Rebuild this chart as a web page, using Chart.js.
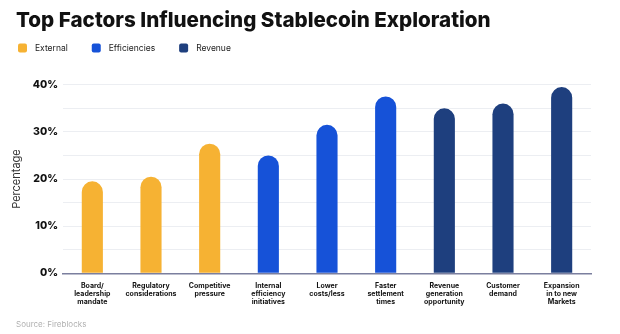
<!DOCTYPE html>
<html><head><meta charset="utf-8">
<script src="https://cdn.jsdelivr.net/npm/chart.js@4/dist/chart.umd.min.js"></script>
<style>html,body{margin:0;padding:0;background:#fff}#wrap{width:620px;height:334px}</style>
</head><body><div id="wrap"><canvas id="c" width="620" height="334"></canvas></div>
<script>
const categories = [["Board/","leadership","mandate"],["Regulatory","considerations"],["Competitive","pressure"],["Internal","efficiency","initiatives"],["Lower","costs/less"],["Faster","settlement","times"],["Revenue","generation","opportunity"],["Customer","demand"],["Expansion","in to new","Markets"]];
const external = [19.5, 20.5, 27.5, null, null, null, null, null, null];
const efficiencies = [null, null, null, 25, 31.5, 37.5, null, null, null];
const revenue = [null, null, null, null, null, null, 35, 36, 39.5];
const yTicks = [0, 10, 20, 30, 40];

const FONT = "Inter, 'Open Sans', sans-serif";
const common = {grouped:false, borderSkipped:'start', borderRadius:20, categoryPercentage:1, barPercentage:0.36};

// Shift left-aligned title blocks and draw a compact legend row
const layoutTweaks = {
  id:'layoutTweaks',
  afterLayout(chart){
    chart.boxes.forEach(b => {
      if (b.options && typeof b.options.text === 'string' && b.options.align === 'start') {
        b.left += 6; b.right += 6;
      }
    });
  },
  afterDraw(chart){
    const ctx = chart.ctx;
    ctx.save();
    ctx.font = "8.5px " + FONT;
    ctx.textBaseline = 'middle';
    let x = 18;
    const yc = 48;
    chart.data.datasets.forEach(ds => {
      ctx.fillStyle = ds.backgroundColor;
      ctx.beginPath();
      ctx.roundRect(x, yc - 4.5, 9, 9, 2);
      ctx.fill();
      ctx.fillStyle = '#222';
      ctx.fillText(ds.label, x + 17, yc);
      x += 17 + ctx.measureText(ds.label).width + 24;
    });
    ctx.restore();
  }
};

new Chart(document.getElementById('c'), {
  type:'bar',
  data:{labels:categories, datasets:[
    Object.assign({label:'External', data:external, backgroundColor:'#F6B233'}, common),
    Object.assign({label:'Efficiencies', data:efficiencies, backgroundColor:'#1652D8'}, common),
    Object.assign({label:'Revenue', data:revenue, backgroundColor:'#1E3F7E'}, common)
  ]},
  plugins:[layoutTweaks],
  options:{
    responsive:false, animation:false, devicePixelRatio:1,
    layout:{padding:{left:10,right:29,top:6,bottom:5}},
    plugins:{
      title:{display:true, text:'Top Factors Influencing Stablecoin Exploration', align:'start', color:'#111',
        font:{family:FONT, size:20.6, weight:'800'}, padding:{top:2,bottom:52}},
      subtitle:{display:true, position:'bottom', text:'Source: Fireblocks', align:'start', color:'#b0b0b0',
        font:{family:FONT, size:8}, padding:{top:13,bottom:0}},
      legend:{display:false},
      tooltip:{enabled:false}
    },
    scales:{
      x:{grid:{display:false}, border:{color:'#7b7f9e', width:1.5},
        ticks:{color:'#111', font:{family:FONT, size:7, weight:'700', lineHeight:1.1}, maxRotation:0, autoSkip:false, padding:1}},
      y:{min:0, max:40, grid:{color:'#eceef2', drawTicks:false}, border:{display:false},
        afterFit:s => { s.width = 53; },
        title:{display:true, text:'Percentage', color:'#333', font:{family:FONT, size:11}, padding:{top:0,bottom:0}},
        ticks:{stepSize:5, padding:5, color:'#111', font:{family:FONT, size:10.5, weight:'800'},
          callback:v => yTicks.includes(v) ? v + '%' : ''}}
    }
  }
});
</script></body></html>
